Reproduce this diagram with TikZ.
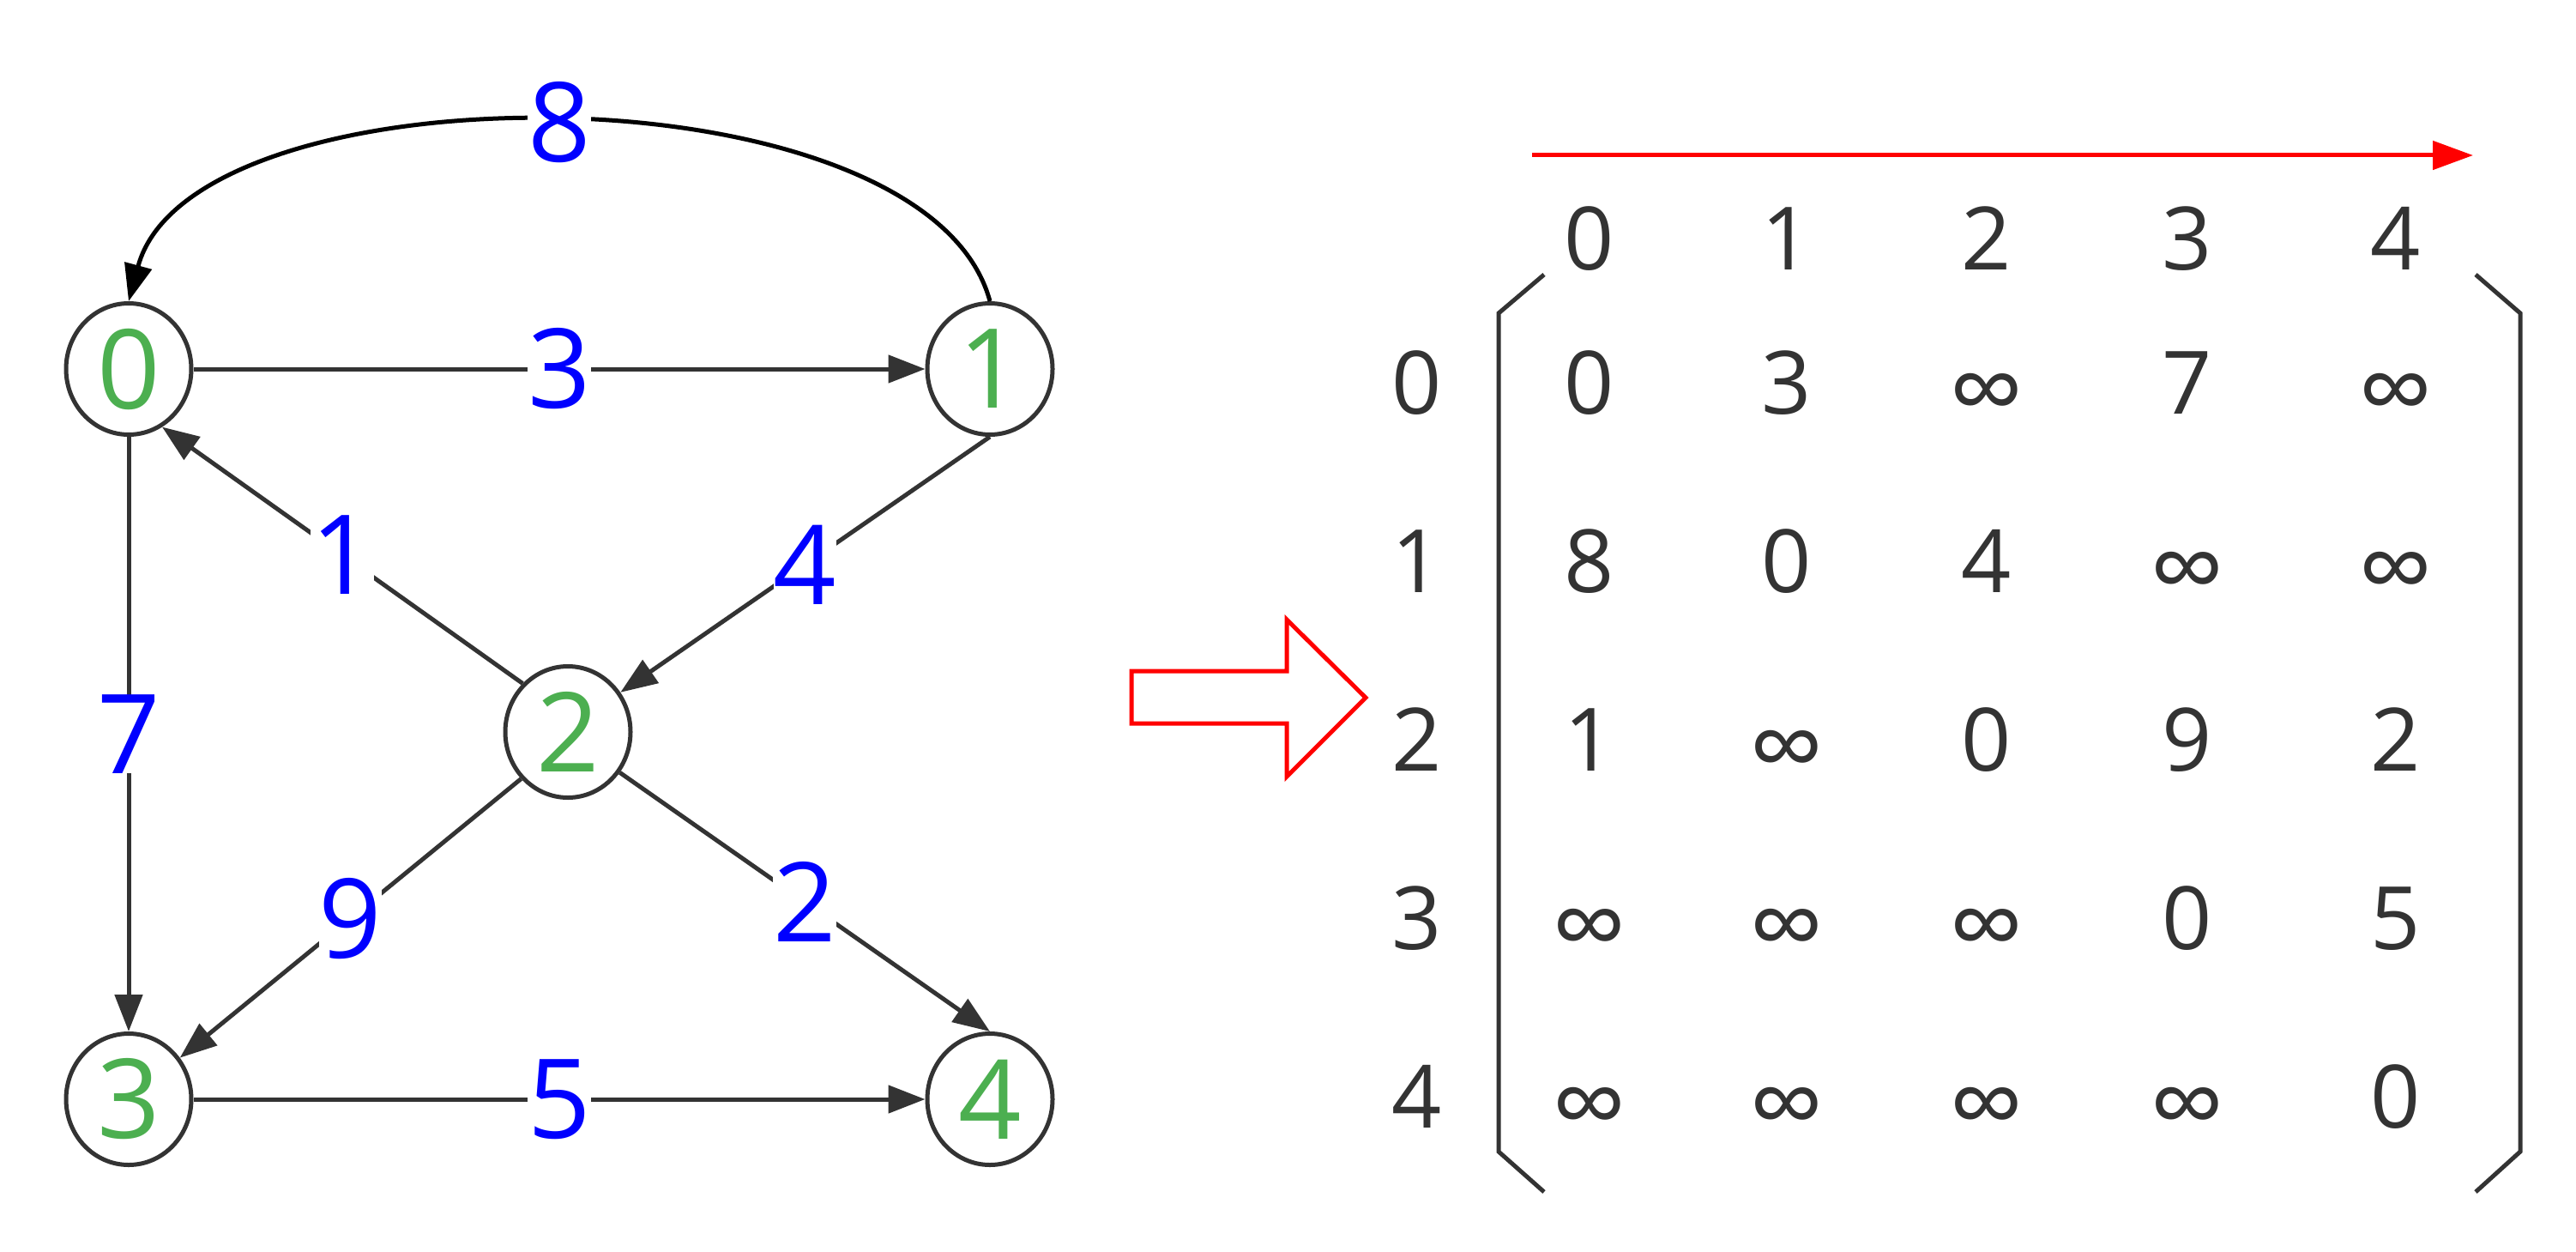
\documentclass[tikz,border=0pt]{standalone}
\usepackage{fontspec}
\setmainfont{Open Sans}
\usetikzlibrary{positioning,shapes.geometric,arrows.meta}
\definecolor{ink}{HTML}{333333}
\definecolor{vgreen}{HTML}{4CAF50}
\definecolor{wblue}{HTML}{0000FF}
\definecolor{hred}{HTML}{FF0000}
\newcommand{\infsym}{\raisebox{-0.15cm}{\fontsize{35}{38}\selectfont ∞}}
\tikzset{
  vert/.style={
    ellipse, draw=ink, line width=0.05cm,
    minimum width=1.46cm, minimum height=1.53cm, inner sep=0pt,
    text=vgreen, font=\fontsize{36.6}{40}\selectfont
  },
  wt/.style={
    fill=white, inner sep=0pt,
    text=wblue, font=\fontsize{36.6}{40}\selectfont
  },
  edge/.style={draw=ink, line width=0.05cm, -{Triangle[length=0.43cm,width=0.32cm]}},
  cell/.style={text=ink, inner sep=0pt, text height=0.73cm, text depth=0cm, font=\fontsize{29}{32}\selectfont},
  bracket/.style={draw=ink, line width=0.05cm}
}

\begin{document}
\begin{tikzpicture}
        \useasboundingbox (0,0) rectangle (30.03,-14.58);

        % graph
        \node [vert] (n0) at (1.50,-4.30) {0};
        \node [vert, on grid, right=10.04cm of n0] (n1) {1};
        \node [vert, on grid, below right=4.23cm and 5.12cm of n0] (n2) {2};
        \node [vert, on grid, below=8.51cm of n0] (n3) {3};
        \node [vert, on grid, right=10.04cm of n3] (n4) {4};

        \draw [edge] (n0.east) -- node [wt] {3} (n1.west);
        \draw [edge, draw=black] (n1.north) .. controls +(-0.75,2.78) and +(0.75,2.78) .. node [wt] {8} (n0.north);
        \draw [edge] (n0.south) -- node [wt] {7} (n3.north);
        \draw [edge] (n2.133) -- node [wt] {1} (n0.-60);
        \draw [edge] (n1.south) -- node [wt] {4} (n2.37);
        \draw [edge] (n2.-135) -- node [wt] {9} (n3.39);
        \draw [edge] (n2.-38) -- node [wt] {2} (n4.north);
        \draw [edge] (n3.east) -- node [wt] {5} (n4.west);

        % hollow arrow
        \draw [hred, line width=0.05cm, line join=miter] (13.19,-7.82) -- (15.00,-7.82) -- (15.00,-7.22) -- (15.92,-8.13)
          -- (15.00,-9.05) -- (15.00,-8.43) -- (13.19,-8.43) -- cycle;

        % matrix
        \coordinate (top0) at (17.86,-1.81);
        \coordinate (top1) at (28.83,-1.81);
        \draw [hred, line width=0.05cm, -{Triangle[length=0.47cm,width=0.33cm]}] (top0) -- (top1);

        \foreach \x [count=\j from 0] in {18.53,20.83,23.16,25.50,27.93}
          \node [cell] (c\j) at (\x,-2.78) {\j};
        \foreach \row [count=\i from 0] in {{0,3,\infsym,7,\infsym},{8,0,4,\infsym,\infsym},{1,\infsym,0,9,2},{\infsym,\infsym,\infsym,0,5},{\infsym,\infsym,\infsym,\infsym,0}} {
          \node [cell] (r\i) at (16.52,{-4.46-2.08*\i}) {\i};
          \foreach \v [count=\j from 0] in \row
            \node [cell] (m\i\j) at (c\j |- r\i) {\v};
        }

        \draw [bracket] (18.00,-3.20) -- (17.47,-3.65) -- (17.47,-13.42) -- (18.00,-13.89);
        \draw [bracket] (28.86,-3.20) -- (29.38,-3.65) -- (29.38,-13.42) -- (28.86,-13.89);
\end{tikzpicture}
\end{document}
